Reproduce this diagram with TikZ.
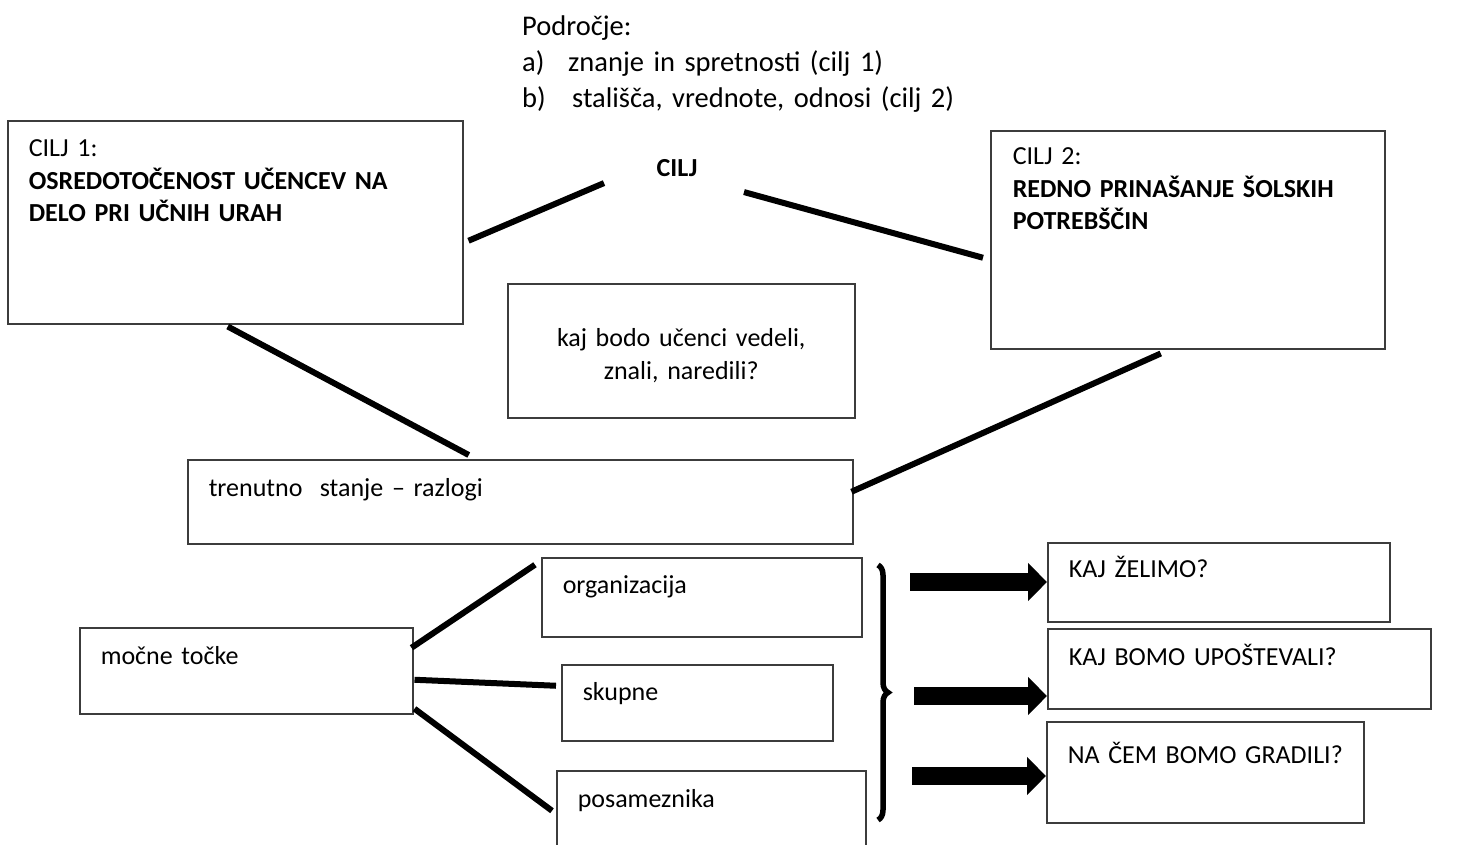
\documentclass[tikz,border=0pt]{standalone}
\usepackage{fontspec}
\setmainfont{Carlito}
\usetikzlibrary{arrows.meta, calc, decorations.pathreplacing}
\definecolor{frameGray}{RGB}{60,60,60}
\tikzset{
    box/.style={rectangle, draw=frameGray, line width=1.5pt, fill=white, anchor=north west, inner ysep=0pt, inner xsep=21pt, align=left, font=\fontsize{26}{32.5}\selectfont},
    goal/.style={inner sep=0pt, font=\fontsize{26}{32.5}\selectfont\bfseries},
    link/.style={line width=6pt},
    fatarrow/.style={line width=18pt, -{Triangle[length=19pt, width=37pt]}},
    bracket/.style={line width=5.5pt, decorate, decoration={brace, amplitude=10pt}}
}

\begin{document}
\begin{tikzpicture}[x=1pt, y=-1pt]

    \path[use as bounding box, fill=white] (0,0) rectangle (1457,844);

    % Heading
    \node (podrocje) [anchor=base west, inner sep=0pt, text width=480pt, align=left, font=\fontsize{28.5}{36}\selectfont] at (522,35) {Področje:\\\makebox[46pt][l]{a)}znanje in spretnosti (cilj 1)\\\makebox[50pt][l]{b)}stališča, vrednote, odnosi (cilj 2)};

    % Goals
    \node (cilj) [goal, anchor=base] at (677,176) {CILJ};

    \node (cilj1) [box, text width=413pt, text height=36pt, text depth=167pt] at (7,120) {CILJ 1:\\\textbf{OSREDOTOČENOST UČENCEV NA}\\\textbf{DELO PRI UČNIH URAH}};

    \node (cilj2) [box, inner xsep=22pt, text width=350pt, text height=34pt, text depth=184pt] at (990,130) {CILJ 2:\\\textbf{REDNO PRINAŠANJE ŠOLSKIH}\\\textbf{POTREBŠČIN}};

    \node (vedeli) [box, align=center, inner xsep=10pt, text width=327pt, text height=63pt, text depth=71pt] at (507,283) {kaj bodo učenci vedeli,\\znali, naredili?};

    \node (stanje) [box, text width=623pt, text height=37pt, text depth=47pt] at (187,459) {trenutno~ stanje – razlogi};

    % Strengths
    \node (mocne) [box, text width=291pt, text height=37pt, text depth=49pt] at (79,627) {močne točke};

    \node (organizacija) [box, text width=278pt, text height=36pt, text depth=43pt] at (541,557) {organizacija};

    \node (skupne) [box, text width=229pt, text height=36pt, text depth=40pt] at (561,664) {skupne};

    \node (posameznika) [box, text width=267pt, text height=37pt, text depth=53pt] at (556,770) {posameznika};

    % Questions
    \node (zelimo) [box, text width=300pt, text height=35pt, text depth=44pt] at (1047,542) {KAJ ŽELIMO?};

    \node (upostevali) [box, text width=341pt, text height=37pt, text depth=43pt] at (1047,628) {KAJ BOMO UPOŠTEVALI?};

    \node (gradili) [box, text width=275pt, text height=42pt, text depth=59pt] at (1046,721) {\mbox{NA ČEM BOMO GRADILI?}};

    % Connecting
    \draw [link] ([shift={(5,18.5)}]cilj1.east) -- ([shift={(-73,15.5)}]cilj.center);
    \draw [link] ([shift={(67,24.5)}]cilj.center) -- ([shift={(-7,18)}]cilj2.west);
    \draw [link] ([shift={(-7.5,2)}]cilj1.south) -- ([shift={(-51.5,-4)}]stanje.north);
    \draw [link] ([shift={(-2,-10)}]stanje.east) -- ([shift={(-27,4)}]cilj2.south);

    \draw [link] ([shift={(-2,-23)}]mocne.east) -- ([shift={(-6,-32.5)}]organizacija.west);
    \draw [link] ([shift={(1,9)}]mocne.east) -- ([shift={(-5,-17)}]skupne.west);
    \draw [link] ([shift={(1,38)}]mocne.east) -- ([shift={(-4,-5)}]posameznika.west);

    % Brace and arrows
    \coordinate (brtop) at (878,565);
    \coordinate (brbot) at (878,820);
    \draw [bracket] (brtop) -- (brbot);

    \coordinate (a1) at (910,582);
    \coordinate (a2) at (914,696);
    \coordinate (a3) at (912,776);
    \draw [fatarrow] (a1) -- (a1 -| zelimo.west);
    \draw [fatarrow] (a2) -- (a2 -| upostevali.west);
    \draw [fatarrow] (a3) -- (a3 -| gradili.west);

\end{tikzpicture}
\end{document}
